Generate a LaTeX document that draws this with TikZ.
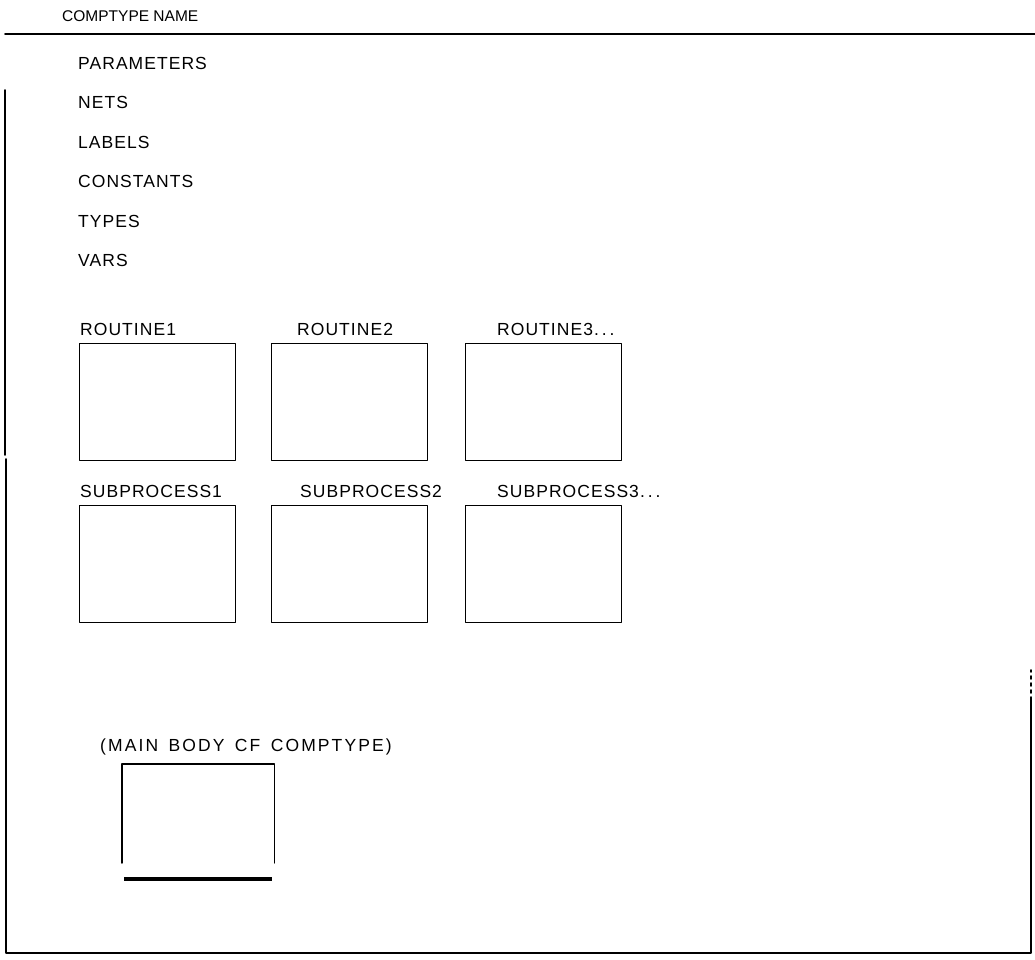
\documentclass[tikz,border=0pt]{standalone}
\usepackage{fontspec}
\setmainfont{Liberation Sans}
\newfontfamily\typerfont{Liberation Sans}[LetterSpace=6]
\newfontfamily\widetyperfont{Liberation Sans}[LetterSpace=12,WordSpace=1.5]
\usetikzlibrary{positioning}
\newcommand\moredots{.\,.\,.}
\tikzset{
    every picture/.style={line cap=round,line join=round},
    declname/.style={anchor=base west,inner sep=0pt,font=\typerfont\fontsize{17.5}{20}\selectfont},
    procbox/.style={draw,line width=1.1pt,minimum width=156pt,minimum height=117pt,
      inner sep=0pt,anchor=north west},
    framerule/.style={line width=1.8pt},
    endbar/.style={line width=3.6pt,line cap=butt}
}
\begin{document}
\begin{tikzpicture}[x=1pt,y=-1pt]
  \useasboundingbox (0,0) rectangle (1035,959);
  % heading and frame
  \node[declname,font=\fontsize{15.5}{18}\selectfont] (title) at (62,21) {COMPTYPE NAME};
  \coordinate (topl) at (5,34);  \coordinate (topr) at (1035,34);
  \coordinate (lefta) at (5,90); \coordinate (leftb) at (5,455);
  \coordinate (leftc) at (6,459); \coordinate (botl) at (6,953);
  \coordinate (botr) at (1031,953); \coordinate (rightb) at (1031,700);
  \coordinate (rightc) at (1031,670);
  \draw[framerule] (topl) -- (topr);
  \draw[framerule] (lefta) -- (leftb);
  \draw[framerule] (leftc) -- (botl) -- (botr) -- (rightb);
  \draw[framerule,dash pattern=on 3pt off 4pt] (rightb) -- (rightc);
  % declarations
  \foreach \d [count=\i] in {PARAMETERS,NETS,LABELS,CONSTANTS,TYPES,VARS}
    {\node[declname] (decl\i) at (78,30+39.4*\i) {\d};}
  % routines
  \foreach \x/\lx/\lab [count=\i] in {79/80/ROUTINE1,271/297/ROUTINE2,465/497/ROUTINE3\moredots}{
    \node[procbox] (rbox\i) at (\x,343) {};
    \node[declname] (rlab\i) at (\lx,335) {\lab};
  }
  % subprocesses
  \foreach \x/\lx/\lab [count=\i] in {79/80/SUBPROCESS1,271/300/SUBPROCESS2,465/497/SUBPROCESS3\moredots}{
    \node[procbox] (sbox\i) at (\x,505) {};
    \node[declname] (slab\i) at (\lx,497) {\lab};
  }
  % main body
  \node[declname,font=\widetyperfont\fontsize{17.5}{20}\selectfont] (mainlab) at (100,751) {(MAIN BODY CF COMPTYPE)};
  \node[procbox,draw=none,minimum width=151pt,minimum height=98pt] (mainbox) at (122,764) {};
  \draw[line width=1.1pt] (mainbox.south west) |- (mainbox.north east) -- (mainbox.south east);
  \coordinate (barl) at ([xshift=2pt,yshift=-16pt]mainbox.south west);
  \coordinate (barr) at ([xshift=-2pt,yshift=-16pt]mainbox.south east);
  \draw[endbar] (barl) -- (barr);
\end{tikzpicture}
\end{document}
